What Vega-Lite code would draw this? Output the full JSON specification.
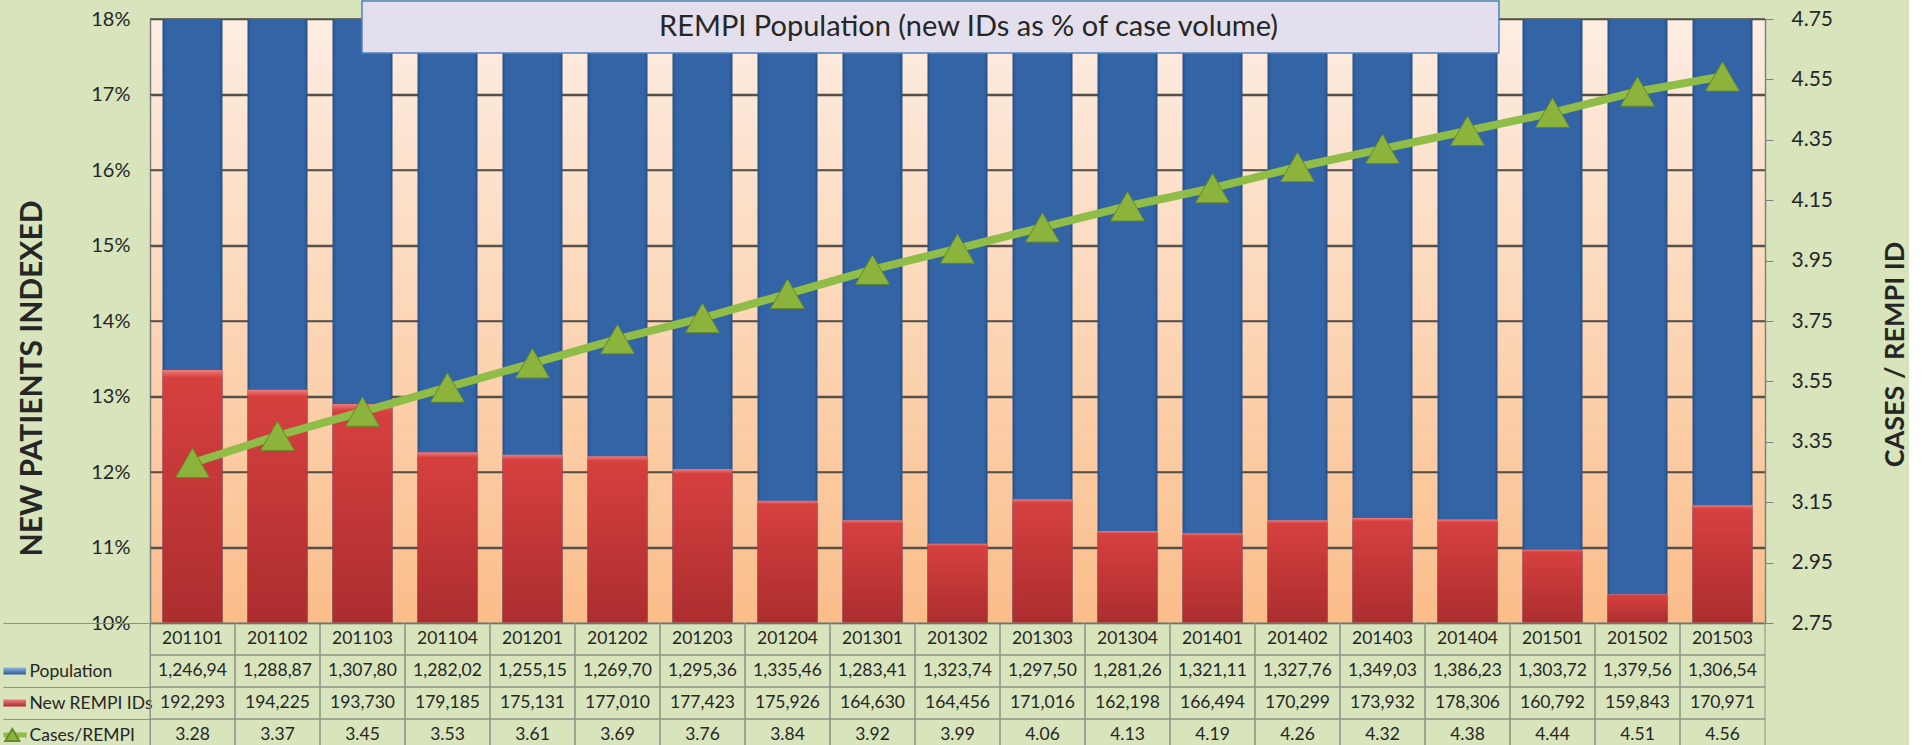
{
  "$schema": "https://vega.github.io/schema/vega-lite/v6.json",
  "background": "#d7e4bc",
  "padding": 0,
  "config": {"view": {"stroke": null}, "font": "Lato", "text": {"font": "Lato"}},
  "datasets": {
    "main": [
      {"period": "201101", "population": "1,246,94", "newids": "192,293", "cases": 3.28, "pct": 13.35},
      {"period": "201102", "population": "1,288,87", "newids": "194,225", "cases": 3.37, "pct": 13.09},
      {"period": "201103", "population": "1,307,80", "newids": "193,730", "cases": 3.45, "pct": 12.90},
      {"period": "201104", "population": "1,282,02", "newids": "179,185", "cases": 3.53, "pct": 12.26},
      {"period": "201201", "population": "1,255,15", "newids": "175,131", "cases": 3.61, "pct": 12.23},
      {"period": "201202", "population": "1,269,70", "newids": "177,010", "cases": 3.69, "pct": 12.21},
      {"period": "201203", "population": "1,295,36", "newids": "177,423", "cases": 3.76, "pct": 12.04},
      {"period": "201204", "population": "1,335,46", "newids": "175,926", "cases": 3.84, "pct": 11.62},
      {"period": "201301", "population": "1,283,41", "newids": "164,630", "cases": 3.92, "pct": 11.36},
      {"period": "201302", "population": "1,323,74", "newids": "164,456", "cases": 3.99, "pct": 11.05},
      {"period": "201303", "population": "1,297,50", "newids": "171,016", "cases": 4.06, "pct": 11.64},
      {"period": "201304", "population": "1,281,26", "newids": "162,198", "cases": 4.13, "pct": 11.22},
      {"period": "201401", "population": "1,321,11", "newids": "166,494", "cases": 4.19, "pct": 11.19},
      {"period": "201402", "population": "1,327,76", "newids": "170,299", "cases": 4.26, "pct": 11.36},
      {"period": "201403", "population": "1,349,03", "newids": "173,932", "cases": 4.32, "pct": 11.39},
      {"period": "201404", "population": "1,386,23", "newids": "178,306", "cases": 4.38, "pct": 11.37},
      {"period": "201501", "population": "1,303,72", "newids": "160,792", "cases": 4.44, "pct": 10.97},
      {"period": "201502", "population": "1,379,56", "newids": "159,843", "cases": 4.51, "pct": 10.38},
      {"period": "201503", "population": "1,306,54", "newids": "170,971", "cases": 4.56, "pct": 11.56}
    ]
  },
  "spacing": 0,
  "bounds": "flush",
  "vconcat": [
    {
      "width": 1615,
      "height": 604,
      "view": {"stroke": null, "fill": {"gradient": "linear", "x1": 0, "y1": 0, "x2": 0, "y2": 1, "stops": [{"offset": 0, "color": "#fdede2"}, {"offset": 0.5, "color": "#fcd6b6"}, {"offset": 1, "color": "#fabd8a"}]}},
      "layer": [
        {
          "data": {"values": [{"g": 11}, {"g": 12}, {"g": 13}, {"g": 14}, {"g": 15}, {"g": 16}, {"g": 17}, {"g": 18}]},
          "mark": {"type": "rule", "color": "#54504a", "strokeWidth": 1.6},
          "encoding": {
            "y": {"field": "g", "type": "quantitative", "scale": {"domain": [10, 18], "nice": false, "zero": false},
              "axis": {"orient": "left", "values": [10, 11, 12, 13, 14, 15, 16, 17, 18], "labelExpr": "datum.value + '%'", "ticks": false, "grid": true, "gridColor": "#54504a", "gridWidth": 1.5, "gridOpacity": 1, "domain": true, "domainColor": "#7f7f7f", "domainWidth": 1.5, "labelPadding": 20, "labelFontSize": 20, "labelColor": "#262626", "labelFont": "Lato", "title": "NEW PATIENTS INDEXED", "titleFontSize": 30, "titleFontWeight": "bold", "titleColor": "#262626", "titleFont": "Lato", "titleX": -103, "titleY": 359}}
          }
        },
        {
          "data": {"name": "main"},
          "layer": [
            {
              "mark": {"type": "bar", "color": {"gradient": "linear", "x1": 0, "y1": 0, "x2": 1, "y2": 0, "stops": [{"offset": 0, "color": "#284f87"}, {"offset": 0.06, "color": "#3264a6"}, {"offset": 0.94, "color": "#3264a6"}, {"offset": 1, "color": "#284f87"}]}},
              "encoding": {
                "x": {"field": "period", "type": "nominal", "scale": {"type": "band", "paddingInner": 0.294, "paddingOuter": 0.147}, "axis": null},
                "y": {"datum": 18, "type": "quantitative", "scale": {"domain": [10, 18], "nice": false, "zero": false}, "axis": null},
                "y2": {"datum": 10}
              }
            },
            {
              "mark": {"type": "bar", "color": {"gradient": "linear", "x1": 0, "y1": 0, "x2": 0, "y2": 1, "stops": [{"offset": 0, "color": "#f07a78"}, {"offset": 0.03, "color": "#d6403f"}, {"offset": 1, "color": "#ac2d2e"}]}},
              "encoding": {
                "x": {"field": "period", "type": "nominal"},
                "y": {"field": "pct", "type": "quantitative"},
                "y2": {"datum": 10}
              }
            }
          ]
        },
        {
          "data": {"name": "main"},
          "layer": [
            {
              "mark": {"type": "line", "color": "#8fbd47", "strokeWidth": 8},
              "encoding": {
                "x": {"field": "period", "type": "nominal", "scale": {"type": "band", "paddingInner": 0.294, "paddingOuter": 0.147}, "axis": null},
                "y": {"field": "cases", "type": "quantitative", "scale": {"domain": [2.75, 4.75], "nice": false, "zero": false},
                  "axis": {"orient": "right", "values": [2.75, 2.95, 3.15, 3.35, 3.55, 3.75, 3.95, 4.15, 4.35, 4.55, 4.75], "format": ".2f", "ticks": true, "tickSize": 8, "tickColor": "#7f7f7f", "grid": false, "domain": true, "domainColor": "#7f7f7f", "domainWidth": 1.5, "labelPadding": 18, "labelFontSize": 21, "labelColor": "#262626", "labelFont": "Lato", "title": "CASES / REMPI ID", "titleAngle": 270, "titleFontSize": 27, "titleFontWeight": "bold", "titleColor": "#262626", "titleFont": "Lato", "titlePadding": 77, "titleY": 335}}
              }
            },
            {
              "mark": {"type": "point", "shape": "triangle-up", "size": 1150, "filled": true, "fill": "#8cb43c", "stroke": "#67892a", "strokeWidth": 1, "opacity": 1},
              "encoding": {
                "x": {"field": "period", "type": "nominal"},
                "y": {"field": "cases", "type": "quantitative"}
              }
            }
          ]
        },
        {
          "data": {"values": [{"t": "REMPI Population (new IDs as % of case volume)"}]},
          "layer": [
            {
              "mark": {"type": "rect", "fill": "#e4dfec", "stroke": "#4f81bd", "strokeWidth": 1.5},
              "encoding": {
                "x": {"datum": 2.494, "type": "quantitative", "scale": {"domain": [0, 19], "nice": false, "zero": false}, "axis": null},
                "x2": {"datum": 15.87},
                "y": {"datum": 18.238, "type": "quantitative", "scale": {"domain": [10, 18], "nice": false, "zero": false}, "axis": null},
                "y2": {"datum": 17.55}
              }
            },
            {
              "mark": {"type": "text", "fontSize": 29, "color": "#262626", "font": "Lato"},
              "encoding": {
                "x": {"datum": 9.63, "type": "quantitative"},
                "y": {"datum": 17.894, "type": "quantitative"},
                "text": {"field": "t", "type": "nominal"}
              }
            }
          ]
        }
      ],
      "resolve": {"scale": {"x": "independent", "y": "independent"}, "axis": {"y": "independent"}}
    },
    {
      "width": 1615,
      "height": 128,
      "layer": [
        {
          "data": {"name": "main"},
          "transform": [{"fold": ["period", "population", "newids", "cases"], "as": ["row", "val"]}],
          "layer": [
            {
              "mark": {"type": "rect", "filled": false, "color": "#8c9286", "strokeWidth": 1},
              "encoding": {
                "x": {"field": "period", "type": "nominal", "scale": {"type": "band", "paddingInner": 0, "paddingOuter": 0}, "axis": null},
                "y": {"field": "row", "type": "nominal", "scale": {"type": "band", "domain": ["period", "population", "newids", "cases"], "paddingInner": 0, "paddingOuter": 0},
                  "axis": {"title": null, "domain": true, "domainColor": "#8c9286", "ticks": true, "tickBand": "extent", "tickSize": 147, "tickColor": "#8c9286", "tickWidth": 1, "tickOpacity": {"condition": {"test": "datum.value === 'period'", "value": 0}, "value": 1}, "labelAlign": "left", "labelPadding": -26, "labelFontSize": 17.5, "labelColor": "#262626", "labelFont": "Lato", "labelExpr": "datum.value === 'population' ? 'Population' : datum.value === 'newids' ? 'New REMPI IDs' : datum.value === 'cases' ? 'Cases/REMPI' : ''"}}
              }
            },
            {
              "mark": {"type": "text", "fontSize": 17.5, "color": "#262626", "font": "Lato"},
              "encoding": {
                "x": {"field": "period", "type": "nominal"},
                "y": {"field": "row", "type": "nominal"},
                "text": {"field": "val", "type": "nominal"}
              }
            }
          ]
        },
        {
          "layer": [
            {
              "data": {"values": [{"row": "population"}]},
              "mark": {"type": "bar", "height": 7, "color": {"gradient": "linear", "x1": 0, "y1": 0, "x2": 0, "y2": 1, "stops": [{"offset": 0, "color": "#8fb4e3"}, {"offset": 1, "color": "#2c5a98"}]}},
              "encoding": {
                "y": {"field": "row", "type": "nominal"},
                "x": {"datum": -1.725, "type": "quantitative", "scale": {"domain": [0, 19], "nice": false, "zero": false}, "axis": null},
                "x2": {"datum": -1.46}
              }
            },
            {
              "data": {"values": [{"row": "newids"}]},
              "mark": {"type": "bar", "height": 7, "color": {"gradient": "linear", "x1": 0, "y1": 0, "x2": 0, "y2": 1, "stops": [{"offset": 0, "color": "#ec8080"}, {"offset": 1, "color": "#a92b2b"}]}},
              "encoding": {
                "y": {"field": "row", "type": "nominal"},
                "x": {"datum": -1.725, "type": "quantitative"},
                "x2": {"datum": -1.46}
              }
            },
            {
              "data": {"values": [{"row": "cases"}]},
              "mark": {"type": "rule", "color": "#8fbd47", "strokeWidth": 5},
              "encoding": {
                "y": {"field": "row", "type": "nominal"},
                "x": {"datum": -1.725, "type": "quantitative"},
                "x2": {"datum": -1.45}
              }
            },
            {
              "data": {"values": [{"row": "cases"}]},
              "mark": {"type": "point", "shape": "triangle-up", "size": 200, "filled": true, "fill": "#8cb43c", "stroke": "#67892a", "opacity": 1},
              "encoding": {
                "y": {"field": "row", "type": "nominal"},
                "x": {"datum": -1.62, "type": "quantitative"}
              }
            }
          ]
        }
      ],
      "resolve": {"scale": {"x": "independent"}}
    }
  ]
}
